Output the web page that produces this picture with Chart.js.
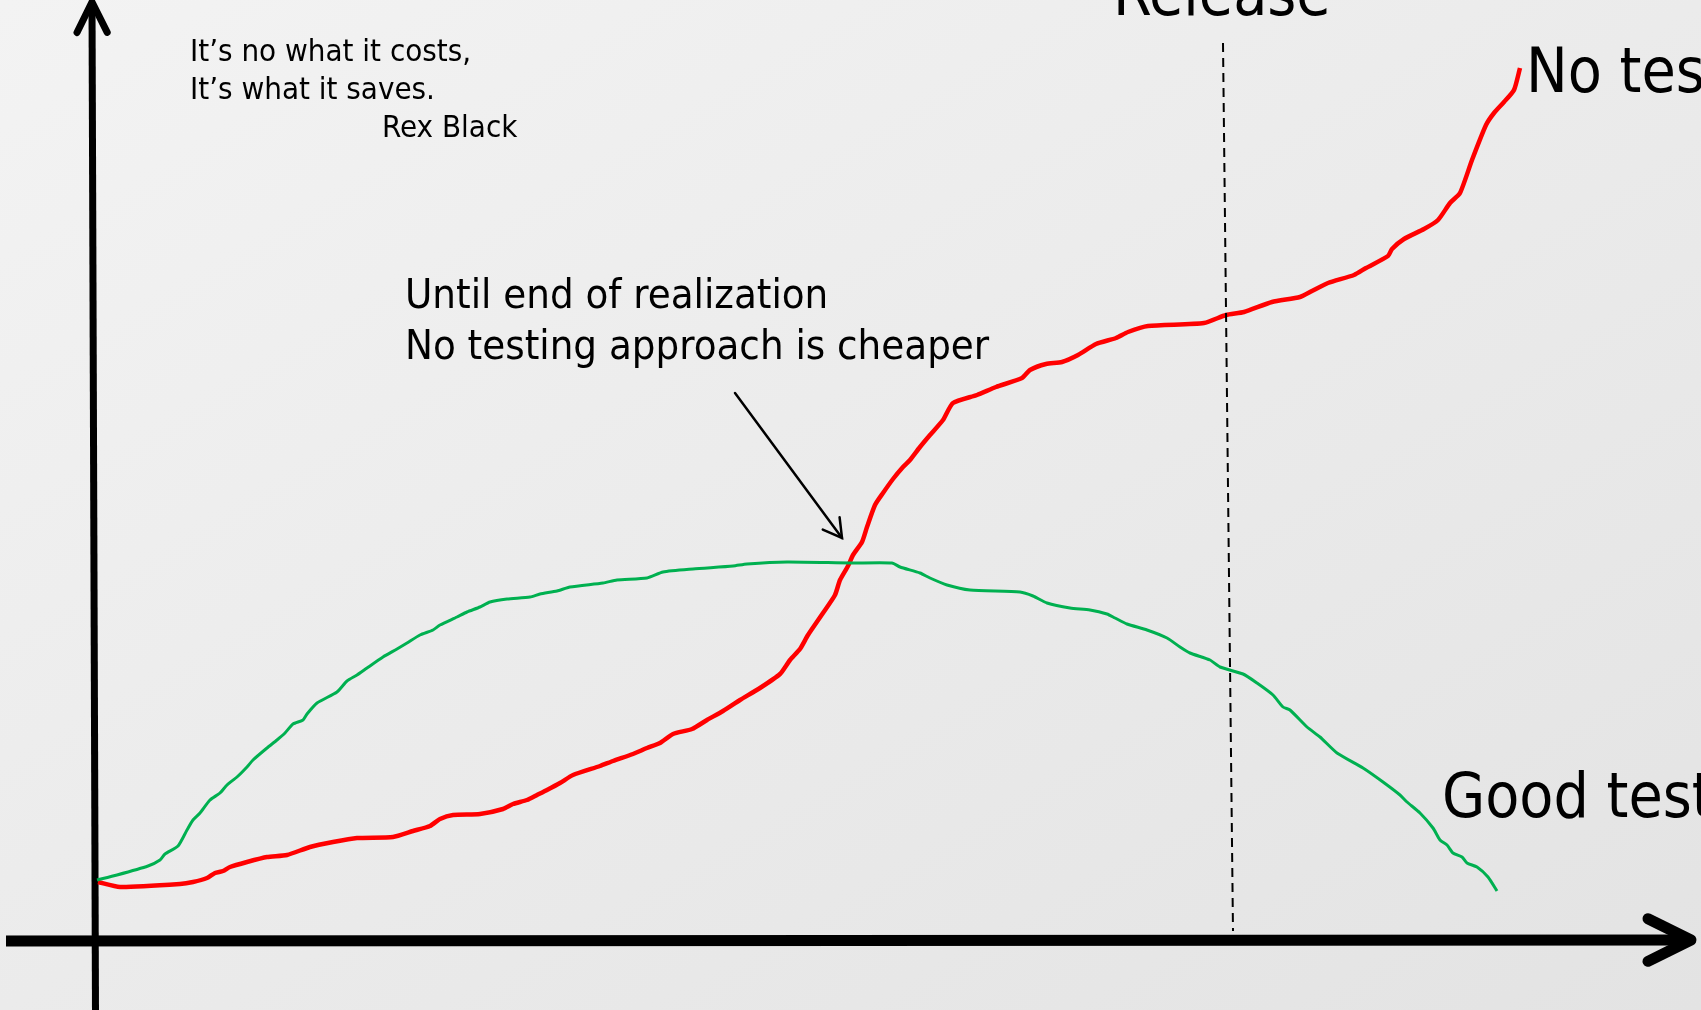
<!DOCTYPE html>
<html>
<head>
<meta charset="utf-8">
<title>Cost of testing</title>
<script src="https://cdn.jsdelivr.net/npm/chart.js@4.4.1/dist/chart.umd.min.js"></script>
<style>
    html, body { margin: 0; padding: 0; }
    body {
        width: 1701px;
        height: 1010px;
        overflow: hidden;
        background: linear-gradient(to bottom right, #f3f3f3, #e3e3e3);
    }
    #wrap { position: relative; width: 1701px; height: 1010px; }
</style>
</head>
<body>
<div id="wrap"><canvas id="costChart"></canvas></div>
<script>
// Curves. x = project time, y = cost (0 at the x axis)
const greenX = [0.2, 2.2, 5.3, 6.5, 7.0, 8.3, 9.2, 9.8, 10.5, 11.5, 12.5, 13.2, 14.2, 15.2, 15.8, 17.2, 18.2, 19.0, 19.8, 20.8,
    21.2, 22.2, 24.2, 25.2, 26.2, 27.2, 28.8, 30.2, 31.2, 32.5, 33.8, 34.5, 36.2, 37.2, 38.5, 39.5, 41.2, 43.5, 44.5, 46.2,
    47.5, 50.8, 52.2, 55.2, 56.8, 59.8, 63.8, 65.2, 69.2, 75.5, 79.7, 80.5, 82.5, 83.5, 85.2, 87.5, 92.5, 93.8, 95.2, 97.5,
    99.5, 101.2, 102.0, 103.2, 105.2, 107.2, 108.5, 109.5, 111.5, 112.5, 114.8, 116.2, 117.8, 118.8, 119.5, 121.2, 122.5, 124.2, 126.8, 128.8,
    130.5, 131.2, 132.5, 133.8, 134.5, 135.2, 135.8, 136.7, 137.2, 138.2, 139.3, 140.2];
const greenY = [6.1, 6.6, 7.5, 8.1, 8.7, 9.5, 11.1, 12.1, 12.8, 14.1, 14.8, 15.6, 16.4, 17.4, 18.1, 19.3, 20.1, 20.8, 21.7, 22.1,
    22.7, 23.8, 24.9, 26.0, 26.6, 27.3, 28.4, 29.2, 29.8, 30.6, 31.1, 31.6, 32.4, 32.9, 33.4, 33.9, 34.2, 34.4, 34.7, 35.0,
    35.4, 35.8, 36.1, 36.3, 36.9, 37.2, 37.5, 37.7, 37.9, 37.8, 37.8, 37.4, 36.8, 36.3, 35.6, 35.1, 34.9, 34.5, 33.8, 33.3,
    33.1, 32.7, 32.3, 31.7, 31.1, 30.3, 29.4, 28.8, 28.1, 27.4, 26.7, 25.8, 24.6, 23.4, 23.1, 21.4, 20.4, 18.8, 17.3, 15.9,
    14.6, 13.9, 12.8, 11.3, 10.1, 9.6, 8.8, 8.4, 7.8, 7.4, 6.4, 5.0];

const redX = [0.3, 2.5, 8.5, 9.8, 11.2, 12.0, 12.8, 13.5, 15.2, 17.2, 19.2, 21.5, 23.8, 26.2, 29.8, 31.8, 33.5, 34.5, 35.8, 38.5,
    40.8, 41.8, 43.2, 44.2, 45.2, 46.5, 47.8, 50.5, 51.8, 53.8, 55.2, 56.5, 57.8, 59.7, 61.2, 62.8, 64.5, 66.5, 68.5, 69.5,
    70.5, 71.3, 72.8, 74.0, 74.5, 75.3, 75.8, 76.7, 77.2, 78.0, 78.8, 79.8, 80.8, 81.5, 82.5, 83.5, 84.8, 85.8, 88.2, 90.1,
    92.7, 93.5, 95.1, 96.7, 98.3, 100.1, 102.1, 103.3, 105.3, 110.9, 113.1, 114.9, 117.7, 120.5, 121.7, 123.3, 125.9, 127.1, 129.3, 129.7,
    130.9, 132.9, 134.3, 135.5, 136.5, 137.7, 139.1, 139.9, 140.9, 141.9, 142.5];
const redY = [5.9, 5.4, 5.7, 5.9, 6.3, 6.8, 7.0, 7.4, 7.9, 8.4, 8.6, 9.4, 9.9, 10.3, 10.4, 11.0, 11.5, 12.2, 12.6, 12.7,
    13.2, 13.7, 14.1, 14.6, 15.1, 15.8, 16.6, 17.5, 18.0, 18.7, 19.3, 19.8, 20.7, 21.2, 22.1, 23.0, 24.1, 25.3, 26.7, 28.1,
    29.2, 30.6, 32.8, 34.6, 36.1, 37.5, 38.6, 39.9, 41.4, 43.6, 44.8, 46.2, 47.4, 48.1, 49.4, 50.6, 52.1, 53.8, 54.6, 55.4,
    56.3, 57.1, 57.7, 57.9, 58.6, 59.7, 60.3, 60.9, 61.5, 61.8, 62.6, 62.9, 63.9, 64.4, 65.0, 65.8, 66.6, 67.3, 68.5, 69.2,
    70.2, 71.2, 72.1, 73.8, 74.8, 78.1, 81.6, 82.8, 83.9, 85.1, 87.3];

// Release marker (dashed, slightly slanted like the hand drawing)
const releaseX = [112.8, 113.8];
const releaseY = [89.8, 1.0];

// Axis extents, in the same units
const axisXRange = [-8.9, 159.6];
const axisYRange = [-6.9, 93.9];

const FONT = "'DejaVu Sans Condensed', 'DejaVu Sans', sans-serif";

// Text on the slide, anchored at the left end of its baseline
const notes = [
    { text: 'It\u2019s no what it costs,', x: 9.5, y: 88.0, size: 31 },
    { text: 'It\u2019s what it saves.', x: 9.5, y: 84.2, size: 31 },
    { text: 'Rex Black', x: 28.7, y: 80.4, size: 31 },
    { text: 'Until end of realization', x: 31.0, y: 63.3, size: 41.5 },
    { text: 'No testing approach is cheaper', x: 31.0, y: 58.2, size: 41.5 },
    { text: 'Release', x: 101.8, y: 92.6, size: 62 },
    { text: 'No testing', x: 143.1, y: 84.9, size: 62 },
    { text: 'Good testing', x: 134.7, y: 12.4, size: 62 }
];

// Pointer from the note to the crossing point
const pointer = { from: [64.0, 54.8], to: [74.7, 40.3] };

const toPoints = (xs, ys) => xs.map((x, i) => ({ x: x, y: ys[i] }));

function arrowHead(ctx, tipX, tipY, fromX, fromY, len, spread) {
    const ang = Math.atan2(fromY - tipY, fromX - tipX);
    ctx.beginPath();
    ctx.moveTo(tipX + Math.cos(ang + spread) * len, tipY + Math.sin(ang + spread) * len);
    ctx.lineTo(tipX, tipY);
    ctx.lineTo(tipX + Math.cos(ang - spread) * len, tipY + Math.sin(ang - spread) * len);
    ctx.stroke();
}

const sketchPlugin = {
    id: 'sketch',
    beforeDatasetsDraw(chart) {
        const { ctx, scales: { x, y } } = chart;
        ctx.save();
        ctx.strokeStyle = '#000';
        ctx.lineJoin = 'round';

        // y axis
        const yx0 = x.getPixelForValue(0.05), yy0 = y.getPixelForValue(axisYRange[0]);
        const yx1 = x.getPixelForValue(-0.3), yy1 = y.getPixelForValue(axisYRange[1]);
        ctx.lineWidth = 7;
        ctx.lineCap = 'butt';
        ctx.beginPath();
        ctx.moveTo(yx0, yy0);
        ctx.lineTo(yx1, yy1);
        ctx.stroke();
        ctx.lineCap = 'round';
        arrowHead(ctx, yx1, yy1, yx0, yy0, 34, 0.46);

        // x axis
        const xx0 = x.getPixelForValue(axisXRange[0]), xy0 = y.getPixelForValue(0);
        const xx1 = x.getPixelForValue(axisXRange[1]), xy1 = y.getPixelForValue(0.1);
        ctx.lineWidth = 11;
        ctx.lineCap = 'butt';
        ctx.beginPath();
        ctx.moveTo(xx0, xy0);
        ctx.lineTo(xx1 - 4, xy1);
        ctx.stroke();
        ctx.lineCap = 'round';
        arrowHead(ctx, xx1, xy1, xx0, xy0, 48, 0.46);
        ctx.restore();
    },
    afterDatasetsDraw(chart) {
        const { ctx, scales: { x, y } } = chart;
        ctx.save();
        ctx.fillStyle = '#000';
        ctx.textBaseline = 'alphabetic';
        ctx.textAlign = 'left';
        notes.forEach(n => {
            ctx.font = n.size + 'px ' + FONT;
            ctx.fillText(n.text, x.getPixelForValue(n.x), y.getPixelForValue(n.y));
        });

        // pointer arrow
        const px0 = x.getPixelForValue(pointer.from[0]), py0 = y.getPixelForValue(pointer.from[1]);
        const px1 = x.getPixelForValue(pointer.to[0]), py1 = y.getPixelForValue(pointer.to[1]);
        ctx.strokeStyle = '#000';
        ctx.lineWidth = 2.5;
        ctx.lineCap = 'round';
        ctx.beginPath();
        ctx.moveTo(px0, py0);
        ctx.lineTo(px1, py1);
        ctx.stroke();
        arrowHead(ctx, px1, py1, px0, py0, 21, 0.52);
        ctx.restore();
    }
};

document.addEventListener('DOMContentLoaded', function () {
    const costCtx = document.getElementById('costChart');
    new Chart(costCtx, {
        type: 'line',
        data: {
            datasets: [
                {
                    label: 'Release',
                    data: toPoints(releaseX, releaseY),
                    borderColor: '#000',
                    borderWidth: 2,
                    borderDash: [9, 6],
                    pointRadius: 0,
                    tension: 0
                },
                {
                    label: 'Good testing',
                    data: toPoints(greenX, greenY),
                    borderColor: '#00b050',
                    borderWidth: 3,
                    pointRadius: 0,
                    tension: 0.2
                },
                {
                    label: 'No testing',
                    data: toPoints(redX, redY),
                    borderColor: '#ff0000',
                    borderWidth: 4.5,
                    pointRadius: 0,
                    tension: 0.2
                }
            ]
        },
        options: {
            responsive: true,
            maintainAspectRatio: false,
            animation: false,
            layout: { padding: 0 },
            plugins: {
                legend: { display: false },
                tooltip: { enabled: false }
            },
            scales: {
                x: { type: 'linear', display: false, min: -9.5, max: 160.6 },
                y: { type: 'linear', display: false, min: -6.9, max: 94.1 }
            }
        },
        plugins: [sketchPlugin]
    });
});
</script>
</body>
</html>
